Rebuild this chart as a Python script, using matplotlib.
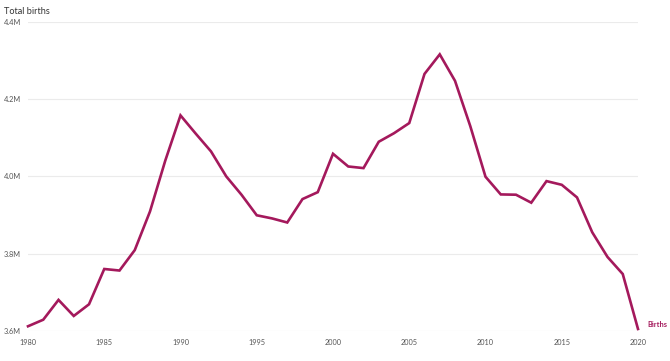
import matplotlib
matplotlib.use("Agg")
import matplotlib.pyplot as plt
from matplotlib.ticker import FuncFormatter

# ------------------------------------------------------------
# Dados: nascimentos totais por ano
# ------------------------------------------------------------
anos = list(range(1980, 2021))
nascimentos = [
    3612258, 3629238, 3680537, 3638933, 3669141, 3760561, 3756547, 3809394,
    3909510, 4040958, 4158212, 4110907, 4065014, 4000240, 3952767, 3899589,
    3891494, 3880894, 3941553, 3959417, 4058814, 4025933, 4021726, 4089950,
    4112052, 4138349, 4265555, 4316233, 4247694, 4130665, 3999386, 3953590,
    3952841, 3932181, 3988076, 3978497, 3945875, 3855500, 3791712, 3747540,
    3605201,
]
y_ticks = [3.6e6, 3.8e6, 4.0e6, 4.2e6, 4.4e6]
x_ticks = [1980, 1985, 1990, 1995, 2000, 2005, 2010, 2015, 2020]

cor = "#a4195c"
plt.rcParams["font.family"] = ["Lato", "DejaVu Sans"]

fig = plt.figure(figsize=(6.7, 3.61), dpi=100)
ax = fig.add_axes([28 / 670, 1 - 331 / 361, 610 / 670, 309 / 361])

ax.plot(anos, nascimentos, color=cor, lw=1.9, solid_joinstyle="miter", clip_on=False)

ax.set_xlim(1980, 2020)
ax.set_ylim(3.6e6, 4.4e6)
ax.set_xticks(x_ticks)
ax.set_yticks(y_ticks)
ax.yaxis.set_major_formatter(FuncFormatter(lambda v, p: f"{v / 1e6:.1f}M"))

ax.grid(axis="y", color="#ebebeb", lw=0.8)
ax.set_axisbelow(True)
for s in ax.spines.values():
    s.set_visible(False)
ax.tick_params(length=0, labelsize=5.3, labelcolor="#555555")
ax.tick_params(axis="y", pad=5)
ax.tick_params(axis="x", pad=6)

# rótulo da série no fim da linha
ax.text(2020.6, nascimentos[-1] + 0.012e6, "Births", color=cor, fontsize=5.3,
        fontweight="bold", va="center", ha="left")

fig.text(4 / 670, 1 - 11 / 361, "Total births", fontsize=6.6, color="#333333",
         va="center", ha="left")

fig.savefig("out.png", dpi=100)
